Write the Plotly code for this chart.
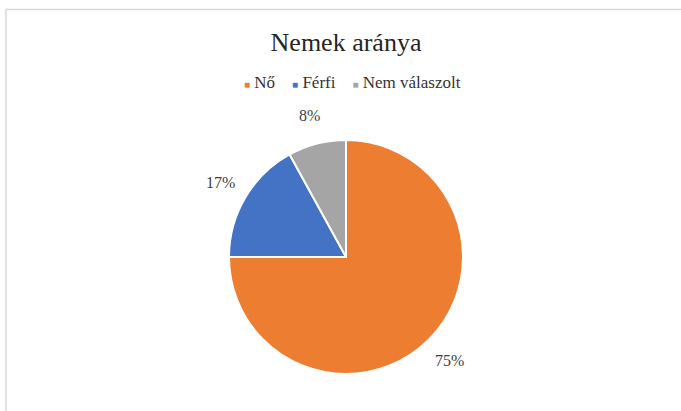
import math
import plotly.graph_objects as go

W, H = 681, 411

labels = ['Nő', 'Férfi', 'Nem válaszolt']
values = [75, 17, 8]
colors = ['#ED7D31', '#4472C4', '#A5A5A5']

FONT = 'Liberation Serif, Times New Roman, serif'

# pie centre / radius in pixels
cx, cy, r = 346, 257, 117
label_dist = r + 29

fig = go.Figure(go.Pie(
    labels=labels,
    values=values,
    sort=False,
    direction='clockwise',
    rotation=0,
    marker=dict(colors=colors, line=dict(color='white', width=2)),
    textinfo='none',
    domain=dict(x=[(cx - r) / W, (cx + r) / W],
                y=[(H - cy - r) / H, (H - cy + r) / H]),
    hoverinfo='label+percent',
    showlegend=False,
))

# data labels outside the slices, placed at each slice's mid angle
annotations = []
total = sum(values)
cum = 0
for v in values:
    mid = (cum + v / 2) / total * 2 * math.pi
    cum += v
    px_x = cx + label_dist * math.sin(mid)
    px_y = cy - label_dist * math.cos(mid)
    annotations.append(dict(
        x=px_x / W, y=1 - px_y / H, xref='paper', yref='paper',
        text=f'{round(v / total * 100)}%', showarrow=False,
        xanchor='center', yanchor='middle',
        font=dict(family=FONT, size=16, color='#404040'),
    ))

# legend as one centred line: small coloured squares + names
sp = '\u00a0'
legend_text = (sp * 4).join(
    f"<span style='font-size:10px;color:{c}'>■</span>{sp}{lab}"
    for lab, c in zip(labels, colors)
)
annotations.append(dict(
    x=352 / W, y=1 - 83 / H, xref='paper', yref='paper',
    text=legend_text, showarrow=False,
    xanchor='center', yanchor='middle',
    font=dict(family=FONT, size=17, color='#333333'),
))

fig.update_layout(
    width=W,
    height=H,
    margin=dict(t=0, l=0, r=0, b=0),
    paper_bgcolor='white',
    plot_bgcolor='white',
    title=dict(
        text='Nemek aránya',
        x=346 / W, xanchor='center',
        y=1 - 42 / H, yanchor='middle',
        font=dict(family=FONT, size=26, color='#262626'),
    ),
    annotations=annotations,
    shapes=[dict(
        type='rect', xref='paper', yref='paper',
        x0=6 / W, x1=1.05, y0=-0.05, y1=1 - 9.5 / H,
        line=dict(color='#d9d9d9', width=1.5),
    )],
)

fig.write_html('out.html', config={'displayModeBar': False},
               post_script="document.body.style.margin='0';")
